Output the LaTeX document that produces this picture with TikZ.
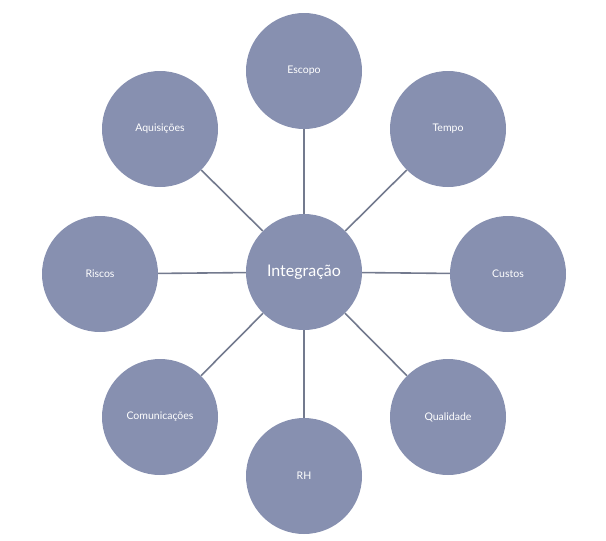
\documentclass[tikz,border=0pt]{standalone}
\usepackage{fontspec}
\setmainfont{Lato}
\begin{document}
\begin{tikzpicture}[x=1pt,y=-1pt,
  bub/.style={circle,fill=bubcol,minimum size=116pt,inner sep=0pt,text=white,font=\fontsize{10.5}{12}\selectfont},
  spoke/.style={draw=linecol,line width=1.6pt}]
\definecolor{bubcol}{HTML}{8790B0}
\definecolor{linecol}{HTML}{737A8E}
\useasboundingbox (0,0) rectangle (606,541);
\node[bub,font=\fontsize{16}{18}\selectfont] (c) at (304,272) {Integração};
\node[bub] (e) at (304,71) {Escopo};
\node[bub] (t) at (448,129) {Tempo};
\node[bub] (cu) at (508,274) {Custos};
\node[bub] (q) at (448,417) {Qualidade};
\node[bub] (rh) at (304,476) {RH};
\node[bub] (co) at (160,417) {Comunicações};
\node[bub] (r) at (100,274) {Riscos};
\node[bub] (a) at (160,129) {Aquisições};
\foreach \n in {e,t,cu,q,rh,co,r,a} \draw[spoke] (c) -- (\n);
\end{tikzpicture}
\end{document}
